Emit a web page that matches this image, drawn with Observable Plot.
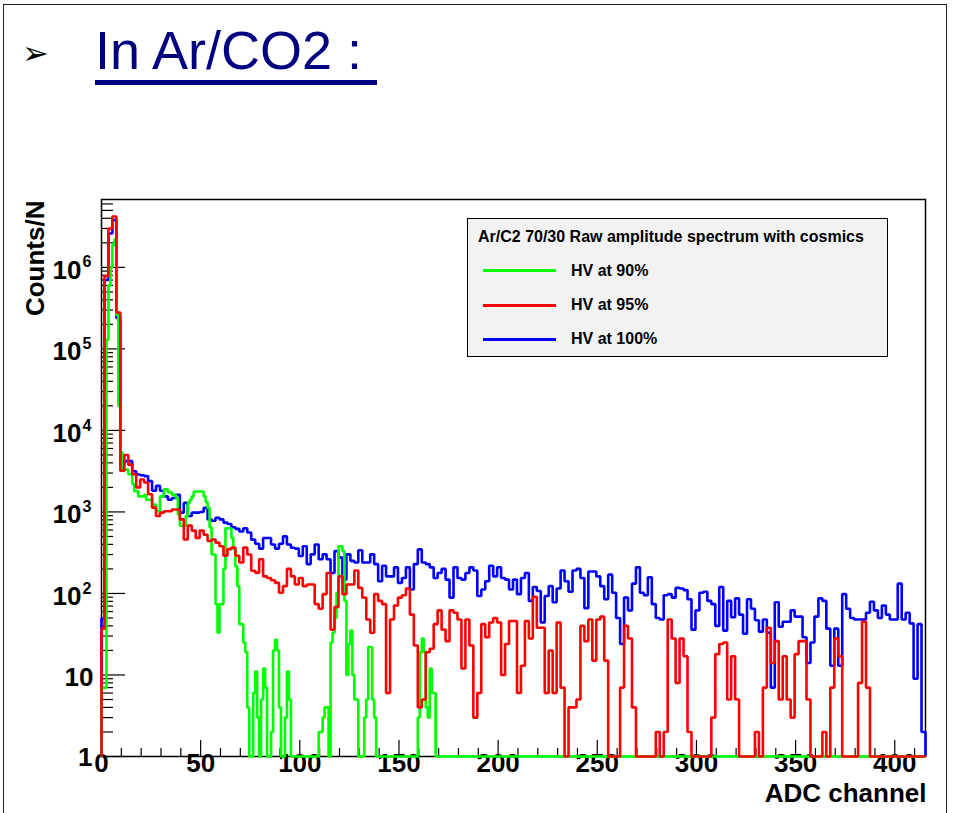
<!DOCTYPE html>
<html>
<head>
<meta charset="utf-8">
<script src="https://cdn.jsdelivr.net/npm/d3@7"></script>
<script src="https://cdn.jsdelivr.net/npm/@observablehq/plot@0.6"></script>
<style>
  html, body { margin: 0; padding: 0; }
  body {
    width: 955px; height: 813px; position: relative; overflow: hidden;
    background: #fff; font-family: "Liberation Sans", Arial, Helvetica, sans-serif;
  }
  #slide { position: absolute; left: 3px; top: 4px; width: 944px; height: 900px;
           border: 1.5px solid #222; box-sizing: border-box; }
  #bullet { position: absolute; left: 22px; top: 37px; font: 32px/1 "DejaVu Sans"; color: #000; }
  #title { position: absolute; left: 95px; top: 23px; font: 54px/1 "Liberation Sans", Arial, sans-serif;
           color: #000080; white-space: pre; }
  #underline { position: absolute; left: 95px; top: 80px; width: 282px; height: 5px; background: #000080; }
  #chart { position: absolute; left: 0; top: 180px; }
  #legend { position: absolute; left: 467px; top: 218px; width: 421px; height: 139px; box-sizing: border-box;
            border: 1.5px solid #000; background: #f2f2f2;
            font: bold 16px/1 "Liberation Sans", Arial, sans-serif; color: #000; }
  #legend .head { position: absolute; left: 10px; top: 10px; white-space: pre; }
  #legend .swatch { position: absolute; left: 15px; width: 73px; height: 3px; }
  #legend .label { position: absolute; left: 103px; white-space: pre; }
</style>
</head>
<body>
<div id="slide"></div>
<div id="bullet">➢</div>
<div id="title">In Ar/CO2 :</div>
<div id="underline"></div>
<div id="chart"></div>
<div id="legend"></div>
<script>
// Ar/CO2 70/30 raw ADC amplitude spectra (with cosmics), three HV settings.
// Counts per bin; empty bins are 0.

// HV at 95% and HV at 100%: 2-channel bins, first bin edge at -0.5
const red95 = [
  37, 780000, 3000000, 4200000, 280000, 3200, 5000, 3800, 2900, 2000,
  2500, 2300, 1650, 1130, 890, 980, 1020, 1020, 1070, 1070,
  810, 460, 680, 590, 480, 590, 525, 440, 460, 420,
  380, 290, 350, 365, 290, 240, 365, 300, 190, 180,
  263, 162, 155, 145, 135, 102, 123, 200, 162, 129,
  155, 123, 129, 129, 74, 65, 98, 178, 36, 68,
  162, 98, 129, 129, 191, 117, 89, 48, 33, 98,
  81, 74, 6, 48, 71, 89, 95, 115, 55, 23,
  4, 5, 19, 21, 42, 62, 36, 26, 62, 58,
  48, 12, 48, 23, 3, 6, 42, 29, 44, 50,
  44, 10, 24, 46, 46, 6, 13, 46, 28, 91,
  38, 38, 6, 20, 6, 44, 7, 0, 4, 4,
  5, 40, 26, 48, 15, 48, 52, 15, 0, 0,
  0, 7, 40, 28, 4, 0, 0, 0, 0, 0,
  2, 0, 2, 48, 28, 8, 28, 17, 2, 0,
  0, 0, 0, 0, 3, 18, 24, 25, 5, 17,
  5, 0, 0, 0, 0, 2, 0, 7, 38, 14,
  26, 5, 17, 5, 3, 18, 26, 26, 5, 0,
  0, 0, 2, 0, 7, 28, 17, 0, 0, 0,
  0, 8, 45, 7, 0, 0, 0, 0, 0, 0,
  0, 0, 0, 0, 0, 0, 0, 0
];

const blue100 = [
  49, 700000, 2600000, 3800000, 240000, 3800, 4200, 4200, 3160, 2880,
  2820, 2750, 2400, 1820, 2090, 1820, 1550, 1410, 1480, 1620,
  980, 1290, 890, 980, 980, 1000, 1120, 810, 780, 850,
  810, 740, 710, 650, 620, 575, 630, 560, 457, 407,
  355, 479, 479, 398, 355, 407, 501, 398, 363, 355,
  288, 380, 229, 302, 398, 263, 302, 263, 178, 331,
  275, 148, 302, 251, 240, 339, 240, 240, 302, 229,
  141, 219, 162, 162, 209, 135, 155, 209, 112, 229,
  347, 240, 229, 209, 155, 178, 200, 148, 89, 209,
  155, 148, 178, 209, 191, 93, 112, 141, 219, 162,
  209, 155, 148, 112, 148, 98, 155, 178, 81, 120,
  107, 44, 93, 123, 78, 115, 191, 141, 105, 191,
  200, 155, 66, 186, 186, 162, 123, 85, 170, 102,
  50, 24, 89, 62, 132, 209, 102, 95, 158, 74,
  50, 48, 95, 98, 89, 117, 115, 110, 85, 36,
  62, 102, 105, 81, 74, 40, 120, 35, 81, 51,
  87, 55, 32, 85, 65, 47, 34, 48, 33, 7,
  78, 39, 45, 45, 62, 52, 52, 29, 14, 25,
  52, 87, 81, 37, 13, 37, 13, 98, 65, 50,
  48, 48, 48, 58, 79, 62, 50, 71, 55, 48,
  48, 132, 48, 58, 43, 9, 42, 2
];

// HV at 90%: 1-channel bins, first bin edge at -0.5; channels above 169 are empty
const green90 = [
  7, 7, 7, 130000, 600000, 1000000, 1900000, 2200000, 260000, 20000,
  5400, 3300, 3300, 3300, 2900, 2900, 2200, 1800, 1800, 1550,
  1550, 1550, 1620, 1410, 1410, 1410, 1230, 1230, 1020, 1020,
  1550, 1550, 1900, 1900, 1740, 1740, 1620, 1620, 1480, 930,
  680, 680, 680, 890, 1290, 1410, 1550, 1780, 1780, 1780,
  1780, 1780, 1550, 1320, 1120, 650, 300, 300, 74, 33,
  74, 74, 200, 630, 630, 630, 480, 350, 214, 123,
  42, 42, 25, 19, 4, 0, 0, 6, 11, 3,
  0, 5, 12, 7, 0, 0, 2, 20, 27, 20,
  4, 0, 0, 3, 11, 5, 0, 0, 0, 0,
  0, 0, 0, 0, 0, 0, 0, 0, 0, 0,
  2, 2, 3, 4, 4, 0, 25, 33, 50, 102,
  380, 380, 330, 81, 10, 24, 35, 10, 5, 5,
  0, 0, 0, 3, 5, 22, 22, 5, 3, 0,
  0, 0, 0, 0, 0, 0, 0, 0, 0, 0,
  0, 0, 0, 0, 0, 0, 0, 0, 0, 0,
  3, 19, 28, 19, 4, 3, 12, 6, 6, 0
];

const seriesNames  = ["HV at 90%", "HV at 95%", "HV at 100%"];
const seriesColors = ["#00ff00", "#ff0000", "#0000ff"];
const legendTitle  = "Ar/C2 70/30 Raw amplitude spectrum with cosmics";

// axis ticks and labels
const xTickLabels = [0, 50, 100, 150, 200, 250, 300, 350, 400];
const yDecades    = [1, 10, 100, 1e3, 1e4, 1e5, 1e6];
const X_MIN = 0, X_MAX = 415.5;
const Y_MIN = 1, Y_MAX = 6.8e6;

const xMinor = d3.range(X_MIN, X_MAX, 10).filter(v => v % 50 !== 0);
const yMinor = yDecades.flatMap(d => d3.range(2, 10).map(m => m * d)).filter(v => v <= Y_MAX);

// outline of a histogram as a step path; empty bins rest on the axis floor
function stepPoints(counts, binWidth, firstEdge) {
  const pts = [{x: Math.max(firstEdge, X_MIN), y: Y_MIN}];
  counts.forEach((c, i) => {
    const lo = Math.max(firstEdge + i * binWidth, X_MIN);
    const hi = firstEdge + (i + 1) * binWidth;
    const y = Math.max(c, Y_MIN);
    pts.push({x: lo, y}, {x: hi, y});
  });
  const end = firstEdge + counts.length * binWidth;
  pts.push({x: end, y: Y_MIN});
  if (end < X_MAX) pts.push({x: X_MAX, y: Y_MIN});
  return pts;
}

const greenPts = stepPoints(green90, 1, -0.5);
const redPts   = stepPoints(red95, 2, -0.5);
const bluePts  = stepPoints(blue100, 2, -0.5);

const W = 955, H = 633;
const mL = 101, mR = 30, mT = 19, mB = 57;
const plotW = W - mL - mR, plotH = H - mT - mB;
const bold = "bold";
const lineOpts = {x: "x", y: "y", strokeWidth: 2.6, strokeLinejoin: "miter", strokeLinecap: "butt"};

const chart = Plot.plot({
  width: W, height: H,
  marginLeft: mL, marginRight: mR, marginTop: mT, marginBottom: mB,
  x: {domain: [X_MIN, X_MAX], axis: null},
  y: {type: "log", domain: [Y_MIN, Y_MAX], axis: null},
  style: {fontFamily: "'Liberation Sans', Arial, Helvetica, sans-serif", fontWeight: "bold", color: "black", background: "transparent"},
  marks: [
    Plot.frame({stroke: "black", strokeWidth: 1.5}),
    // inward ticks, ROOT style
    Plot.tickX(xMinor, {x: d => d, stroke: "black", strokeWidth: 1.2, insetTop: plotH - 8}),
    Plot.tickX(xTickLabels, {x: d => d, stroke: "black", strokeWidth: 1.2, insetTop: plotH - 16}),
    Plot.tickY(yMinor, {y: d => d, stroke: "black", strokeWidth: 1.2, insetRight: plotW - 12}),
    Plot.tickY(yDecades, {y: d => d, stroke: "black", strokeWidth: 1.2, insetRight: plotW - 24}),
    // x tick labels
    Plot.text(xTickLabels, {x: d => d, frameAnchor: "bottom", dy: 15, text: d => String(d), fontSize: 26, fontWeight: bold}),
    // y tick labels: 1, 10, then 10 with exponent
    Plot.text(yDecades.filter(d => d === 1), {y: d => d, frameAnchor: "left", textAnchor: "end", dx: -9, dy: 1,
      text: () => "1", fontSize: 26, fontWeight: bold}),
    Plot.text(yDecades.filter(d => d === 10), {y: d => d, frameAnchor: "left", textAnchor: "end", dx: -8, dy: 3,
      text: () => "10", fontSize: 26, fontWeight: bold}),
    Plot.text(yDecades.filter(d => d >= 100), {y: d => d, frameAnchor: "left", textAnchor: "end", dx: -20, dy: 3,
      text: () => "10", fontSize: 26, fontWeight: bold}),
    Plot.text(yDecades.filter(d => d >= 100), {y: d => d, frameAnchor: "left", textAnchor: "start", dx: -19, dy: -5,
      text: d => String(Math.round(Math.log10(d))), fontSize: 16, fontWeight: bold}),
    // axis titles
    Plot.text(["Counts/N"], {frameAnchor: "top-left", rotate: -90, textAnchor: "end", dx: -76, dy: 1,
      text: d => d, fontSize: 26, fontWeight: bold}),
    Plot.text(["ADC channel"], {frameAnchor: "bottom-right", textAnchor: "end", dx: 1, dy: 45,
      text: d => d, fontSize: 26, fontWeight: bold}),
    // spectra
    Plot.line(bluePts,  {...lineOpts, stroke: seriesColors[2]}),
    Plot.line(greenPts, {...lineOpts, stroke: seriesColors[0]}),
    Plot.line(redPts,   {...lineOpts, stroke: seriesColors[1]})
  ]
});
document.getElementById("chart").appendChild(chart);

// legend box
const legend = document.getElementById("legend");
const head = document.createElement("div");
head.className = "head";
head.textContent = legendTitle;
legend.appendChild(head);
const rowCenters = [53, 87.5, 121.5];
seriesNames.forEach((name, i) => {
  const sw = document.createElement("div");
  sw.className = "swatch";
  sw.style.top = (rowCenters[i] - 3) + "px";
  sw.style.background = seriesColors[i];
  legend.appendChild(sw);
  const lb = document.createElement("div");
  lb.className = "label";
  lb.style.top = (rowCenters[i] - 9.5) + "px";
  lb.textContent = name;
  legend.appendChild(lb);
});
</script>
</body>
</html>
